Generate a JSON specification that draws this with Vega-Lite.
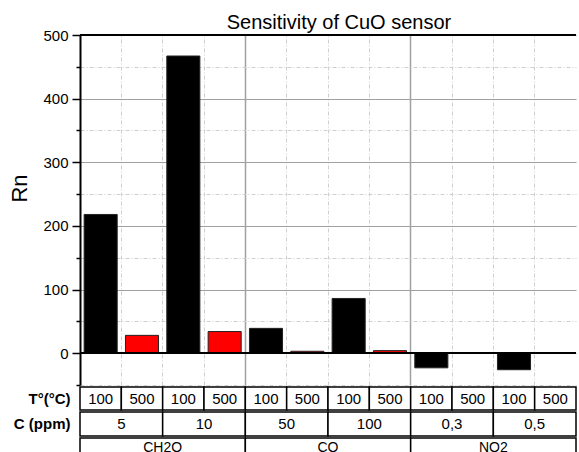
{
  "$schema": "https://vega.github.io/schema/vega-lite/v6.json",
  "padding": {"top": 13, "left": 8, "right": 0, "bottom": 0},
  "background": "white",
  "config": {
    "font": "Liberation Sans",
    "view": {"stroke": null},
    "concat": {"spacing": 0}
  },
  "datasets": {
    "bars": [
      {"bar": "CH2O 5 100", "gas": "CH2O", "conc": "5", "T": "100", "Rn": 218},
      {"bar": "CH2O 5 500", "gas": "CH2O", "conc": "5", "T": "500", "Rn": 28},
      {"bar": "CH2O 10 100", "gas": "CH2O", "conc": "10", "T": "100", "Rn": 467},
      {"bar": "CH2O 10 500", "gas": "CH2O", "conc": "10", "T": "500", "Rn": 34},
      {"bar": "CO 50 100", "gas": "CO", "conc": "50", "T": "100", "Rn": 39},
      {"bar": "CO 50 500", "gas": "CO", "conc": "50", "T": "500", "Rn": 3},
      {"bar": "CO 100 100", "gas": "CO", "conc": "100", "T": "100", "Rn": 86},
      {"bar": "CO 100 500", "gas": "CO", "conc": "100", "T": "500", "Rn": 4},
      {"bar": "NO2 0,3 100", "gas": "NO2", "conc": "0,3", "T": "100", "Rn": -23},
      {"bar": "NO2 0,3 500", "gas": "NO2", "conc": "0,3", "T": "500", "Rn": 1},
      {"bar": "NO2 0,5 100", "gas": "NO2", "conc": "0,5", "T": "100", "Rn": -26},
      {"bar": "NO2 0,5 500", "gas": "NO2", "conc": "0,5", "T": "500", "Rn": 1}
    ],
    "concs": [
      {"cg": "CH2O 5", "conc": "5"},
      {"cg": "CH2O 10", "conc": "10"},
      {"cg": "CO 50", "conc": "50"},
      {"cg": "CO 100", "conc": "100"},
      {"cg": "NO2 0,3", "conc": "0,3"},
      {"cg": "NO2 0,5", "conc": "0,5"}
    ],
    "gases": [
      {"gas": "CH2O"},
      {"gas": "CO"},
      {"gas": "NO2"}
    ]
  },
  "resolve": {"scale": {"x": "independent", "y": "independent"}},
  "vconcat": [
    {
      "width": 496,
      "height": 350,
      "title": {"text": "Sensitivity of CuO sensor", "fontSize": 20, "fontWeight": "normal", "color": "black", "anchor": "middle", "frame": "group", "baseline": "alphabetic", "offset": -21, "dx": 11},
      "data": {"name": "bars"},
      "layer": [
        {
          "mark": {"type": "bar", "width": {"band": 0.8}, "stroke": "#222222", "strokeWidth": 1},
          "encoding": {
            "x": {
              "field": "bar", "type": "nominal", "sort": null,
              "scale": {"paddingInner": 0, "paddingOuter": 0},
              "axis": {
                "orient": "top", "labels": false, "ticks": false, "domain": false, "title": null,
                "minExtent": 0, "maxExtent": 0, "offset": 0,
                "grid": true, "bandPosition": 0,
                "gridColor": {"condition": {"test": "datum.value === 'CO 50 100' || datum.value === 'NO2 0,3 100'", "value": "#a0a0a0"}, "value": "#cfcfcf"},
                "gridDash": {"condition": {"test": "datum.value === 'CO 50 100' || datum.value === 'NO2 0,3 100'", "value": []}, "value": [4, 2, 1, 2]},
                "gridWidth": {"condition": {"test": "datum.value === 'CO 50 100' || datum.value === 'NO2 0,3 100'", "value": 1.5}, "value": 1}
              }
            },
            "y": {
              "field": "Rn", "type": "quantitative",
              "scale": {"domain": [-50, 500], "nice": false, "zero": false},
              "axis": {
                "values": [-50, 0, 50, 100, 150, 200, 250, 300, 350, 400, 450, 500],
                "tickCount": 30,
                "labelOverlap": false,
                "labelExpr": "datum.value >= 0 && datum.value % 100 === 0 ? datum.label : ''",
                "labelFontSize": {"condition": {"test": "datum.value < 0", "value": 0}, "value": 15},
                "labelColor": "black", "labelPadding": 4,
                "tickColor": "black", "tickWidth": 1.5, "tickSize": 8,
                "tickDash": {"condition": {"test": "datum.value % 100 === 0", "value": []}, "value": [4, 20]},
                "domainColor": "black", "domainWidth": 2,
                "grid": true,
                "gridColor": {"condition": {"test": "datum.value % 100 === 0", "value": "#a0a0a0"}, "value": "#cfcfcf"},
                "gridDash": {"condition": {"test": "datum.value % 100 === 0", "value": []}, "value": [4, 2, 1, 2]},
                "gridWidth": 1,
                "title": "Rn", "titleFontSize": 22, "titleFontWeight": "normal", "titleColor": "black",
                "titleX": -54, "titleY": 153, "titleBaseline": "alphabetic", "titleAlign": "center", "titleAngle": 270
              }
            },
            "fill": {"field": "T", "type": "nominal", "scale": {"domain": ["100", "500"], "range": ["#000000", "#ff0000"]}, "legend": null}
          }
        },
        {
          "mark": {"type": "rule", "color": "black", "strokeWidth": 1.5},
          "encoding": {"y": {"datum": 0}}
        },
        {
          "mark": {"type": "rule", "color": "black", "strokeWidth": 2},
          "encoding": {"y": {"datum": 500}}
        }
      ]
    },
    {
      "width": 496,
      "height": 23,
      "data": {"name": "bars"},
      "transform": [{"calculate": "'T°(°C)'", "as": "row"}],
      "encoding": {
        "x": {"field": "bar", "type": "nominal", "sort": null, "scale": {"paddingInner": 0, "paddingOuter": 0}, "axis": null},
        "y": {"field": "row", "type": "nominal", "scale": {"paddingInner": 0, "paddingOuter": 0},
              "axis": {"title": null, "domain": false, "ticks": false, "labelFontWeight": "bold", "labelFontSize": 15, "labelColor": "black", "labelPadding": 10}}
      },
      "layer": [
        {"mark": {"type": "rect", "fill": "white", "stroke": "black", "strokeWidth": 1.5}},
        {"mark": {"type": "text", "fontSize": 15, "color": "black"}, "encoding": {"text": {"field": "T"}}}
      ]
    },
    {
      "width": 496,
      "height": 24,
      "data": {"name": "concs"},
      "transform": [{"calculate": "'C (ppm)'", "as": "row"}],
      "encoding": {
        "x": {"field": "cg", "type": "nominal", "sort": null, "scale": {"paddingInner": 0, "paddingOuter": 0}, "axis": null},
        "y": {"field": "row", "type": "nominal", "scale": {"paddingInner": 0, "paddingOuter": 0},
              "axis": {"title": null, "domain": false, "ticks": false, "labelFontWeight": "bold", "labelFontSize": 15, "labelColor": "black", "labelPadding": 10}}
      },
      "layer": [
        {"mark": {"type": "rect", "fill": "white", "stroke": "black", "strokeWidth": 1.5}},
        {"mark": {"type": "text", "fontSize": 15, "color": "black"}, "encoding": {"text": {"field": "conc"}}}
      ]
    },
    {
      "width": 496,
      "height": 17,
      "data": {"name": "gases"},
      "encoding": {
        "x": {"field": "gas", "type": "nominal", "sort": null, "scale": {"paddingInner": 0, "paddingOuter": 0}, "axis": null}
      },
      "layer": [
        {"mark": {"type": "rect", "fill": "white", "stroke": "black", "strokeWidth": 1.5}},
        {"mark": {"type": "text", "fontSize": 14, "color": "black", "dy": 1}, "encoding": {"text": {"field": "gas"}}}
      ]
    }
  ]
}
